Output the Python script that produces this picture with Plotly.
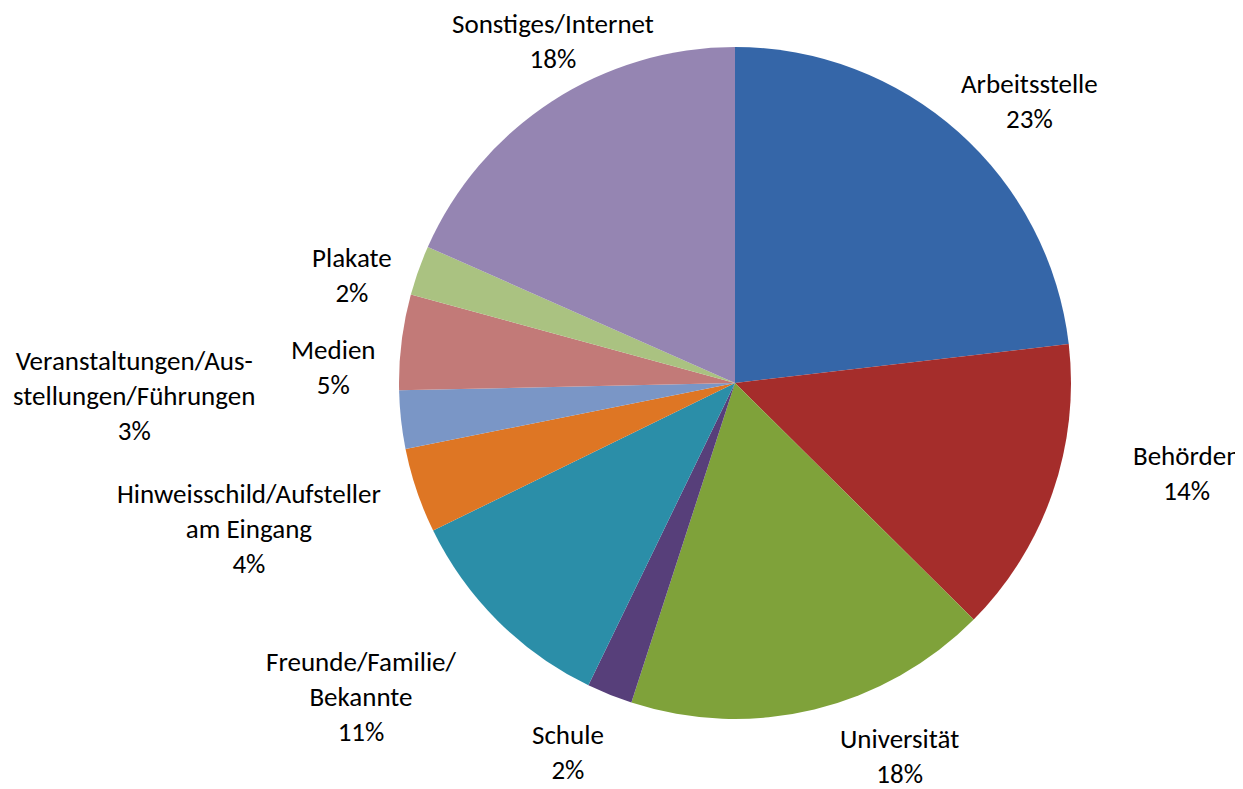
import math
import plotly.graph_objects as go

# ---- data ----
categories = [
    "Arbeitsstelle",
    "Behörden",
    "Universität",
    "Schule",
    "Freunde/Familie/<br>Bekannte",
    "Hinweisschild/Aufsteller<br>am Eingang",
    "Veranstaltungen/Aus-<br>stellungen/Führungen",
    "Medien",
    "Plakate",
    "Sonstiges/Internet",
]
shares = [23.2, 14.3, 17.6, 2.2, 10.6, 4.1, 2.8, 4.6, 2.4, 18.4]

# ---- styles ----
colors = ["#3566A8", "#A52D2B", "#7FA23A", "#573F7A", "#2B8EA8",
          "#DE7624", "#7A96C6", "#C27A78", "#AAC281", "#9585B2"]
# label placement: (distance in pie radii, angular nudge in degrees from slice middle)
label_place = [(1.214, 4.6), (1.369, -7.8), (1.212, -10.1), (1.205, 2.4), (1.452, 5.1),
               (1.509, 2.0), (1.789, 5.1), (1.196, -4.7), (1.185, -3.9), (1.152, 5.0)]

W, H = 1243, 789
PAGE_OFF = 8                      # default body margin of the html page
cx, cy, R = 735 - PAGE_OFF, 383 - PAGE_OFF, 336  # pie centre / radius in figure pixels
dom_x = [(cx - R) / W, (cx + R) / W]
dom_y = [1 - (cy + R) / H, 1 - (cy - R) / H]

FONT = "Carlito, Lato, Calibri, sans-serif"

fig = go.Figure(go.Pie(
    labels=categories,
    values=shares,
    sort=False,
    direction="clockwise",
    rotation=0,
    textinfo="none",
    hoverinfo="label+percent",
    marker=dict(colors=colors, line=dict(width=0)),
    domain=dict(x=dom_x, y=dom_y),
    showlegend=False,
))

total = sum(shares)
annotations = []
cum = 0.0
for name, v, (dist, nudge) in zip(categories, shares, label_place):
    mid = (cum + v / 2) / total * 360.0
    cum += v
    a = math.radians(mid + nudge)
    px = cx + dist * R * math.sin(a)
    py = cy - dist * R * math.cos(a)
    pct = round(v / total * 100)
    annotations.append(dict(
        x=px / W, y=1 - py / H, xref="paper", yref="paper",
        text=f"{name}<br>{pct}%", showarrow=False,
        xanchor="center", yanchor="middle", align="center",
        font=dict(family=FONT, size=27, color="#000000"),
    ))

fig.update_layout(
    width=W, height=H,
    margin=dict(l=0, r=0, t=0, b=0),
    paper_bgcolor="white",
    plot_bgcolor="white",
    annotations=annotations,
)

fig.write_html("out.html")
